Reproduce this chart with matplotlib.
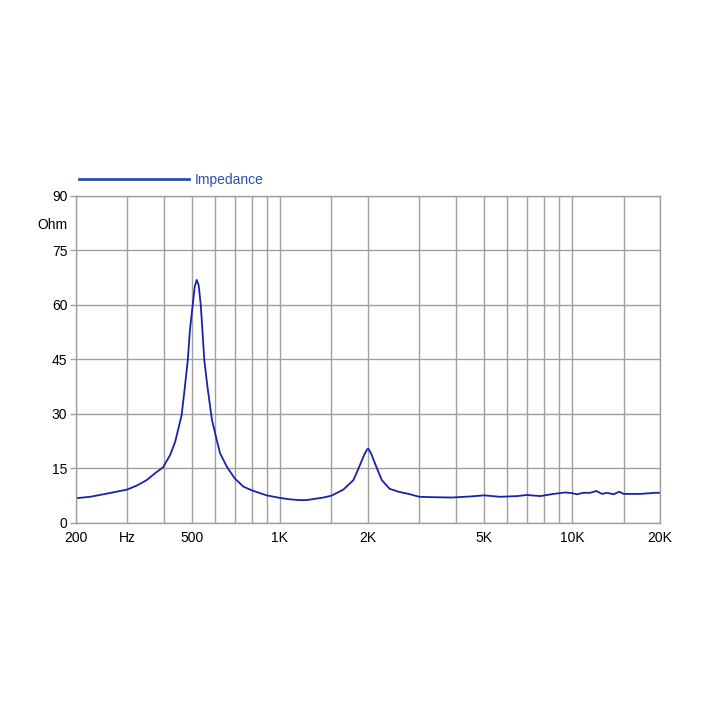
import matplotlib
matplotlib.use("Agg")
import matplotlib.pyplot as plt
from matplotlib.ticker import FixedLocator, FixedFormatter, NullLocator
from matplotlib.lines import Line2D

plt.rcParams['font.family'] = ['Liberation Sans', 'DejaVu Sans']

# Impedance curve (Hz, Ohm)
freq = [200, 224, 249, 276, 300, 324, 350, 374, 398, 421, 438, 461, 473,
        484, 492, 503, 511, 519, 527, 536, 543, 551, 565, 585, 608, 624, 658,
        700, 750, 800, 900, 1000, 1084, 1160, 1236, 1409, 1500, 1650, 1785,
        1865, 1942, 1990, 2010, 2050, 2147, 2233, 2374, 2546, 2755, 3000,
        3312, 3878, 4500, 5000, 5677, 6500, 7000, 7784, 8641, 9480, 10000,
        10396, 10940, 11540, 12100, 12660, 13170, 13870, 14510, 15010, 17120,
        19270, 20000]
impedance = [6.8, 7.2, 7.9, 8.6, 9.2, 10.3, 11.8, 13.7, 15.3, 18.7, 22.3,
             29.7, 37.5, 44.9, 53.1, 60.0, 65.0, 66.9, 65.5, 60.0, 53.1, 44.9,
             37.5, 28.5, 22.8, 19.2, 15.5, 12.3, 10.0, 9.0, 7.6, 6.9, 6.5, 6.3,
             6.3, 7.0, 7.5, 9.2, 11.8, 15.3, 18.7, 20.3, 20.4, 19.2, 15.1, 11.8,
             9.4, 8.6, 8.0, 7.2, 7.1, 7.0, 7.3, 7.6, 7.2, 7.4, 7.7, 7.4, 8.0,
             8.4, 8.2, 7.9, 8.3, 8.3, 8.8, 8.0, 8.3, 7.9, 8.6, 8.0, 8.0, 8.3,
             8.3]

x_grid = [200, 300, 400, 500, 600, 700, 800, 900, 1000, 1500, 2000, 3000,
          4000, 5000, 6000, 7000, 8000, 9000, 10000, 15000, 20000]
x_labels = {200: '200', 300: 'Hz', 500: '500', 1000: '1K', 2000: '2K',
            5000: '5K', 10000: '10K', 20000: '20K'}
y_ticks = [0, 15, 30, 45, 60, 75, 90]
y_unit = 'Ohm'
series_name = 'Impedance'

grid_color = '#a0a0a0'
line_color = '#1a22a8'
legend_color = '#2e4db3'

fig = plt.figure(figsize=(7.16, 7.16), dpi=100)
ax = fig.add_axes([0.1057, 0.2696, 0.8161, 0.4567])

ax.plot(freq, impedance, color=line_color, lw=1.3, solid_joinstyle='round')

ax.set_xscale('log')
ax.set_xlim(200, 20000)
ax.set_ylim(0, 90)

ax.xaxis.set_major_locator(FixedLocator(x_grid))
ax.xaxis.set_major_formatter(FixedFormatter([x_labels.get(f, '') for f in x_grid]))
ax.xaxis.set_minor_locator(NullLocator())
ax.tick_params(axis='x', length=0, labelsize=10, pad=6, colors='black')

ax.yaxis.set_major_locator(FixedLocator(y_ticks))
ax.yaxis.set_major_formatter(FixedFormatter([str(v) for v in y_ticks]))
ax.yaxis.set_minor_locator(FixedLocator([82.5]))
ax.yaxis.set_minor_formatter(FixedFormatter([y_unit]))
ax.tick_params(axis='y', which='major', length=4, width=1, color=grid_color,
               labelsize=10, pad=2)
ax.tick_params(axis='y', which='minor', length=0, labelsize=10, pad=6)

ax.grid(True, which='major', color=grid_color, lw=1)
ax.set_axisbelow(True)
for s in ax.spines.values():
    s.set_color(grid_color)
    s.set_linewidth(1)

handle = Line2D([], [], color=legend_color, lw=2)
leg = fig.legend([handle], [series_name], loc='center left',
                 bbox_to_anchor=(0.103, 0.749), frameon=False,
                 handlelength=7.9, handletextpad=0.4, fontsize=10,
                 borderaxespad=0)
for t in leg.get_texts():
    t.set_color(legend_color)

fig.savefig('out.png', dpi=100)
